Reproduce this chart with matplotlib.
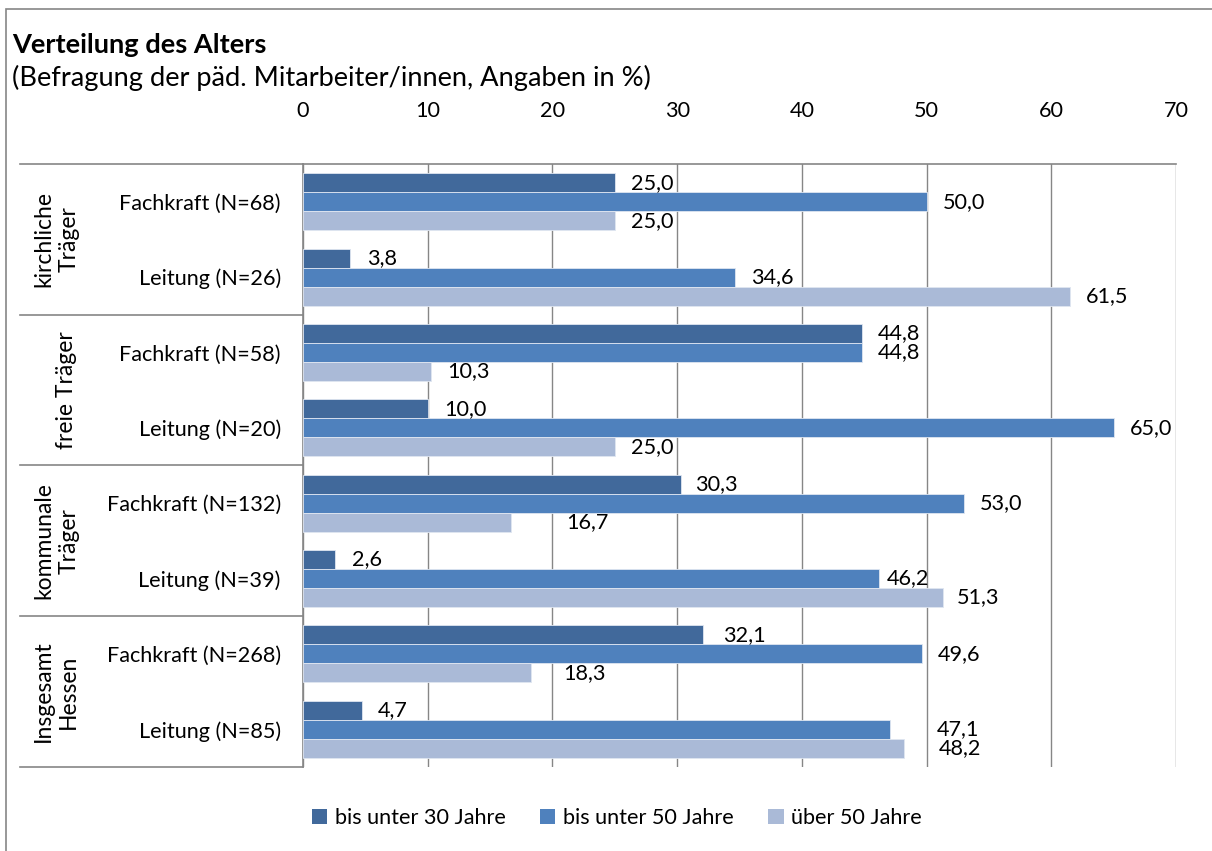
import numpy as np
import matplotlib
matplotlib.use('Agg')
import matplotlib.pyplot as plt
from matplotlib.patches import Patch, Rectangle
from matplotlib.transforms import blended_transform_factory

plt.rcParams['font.family'] = ['Lato', 'DejaVu Sans']

# data
groups = ['kirchliche\nTräger', 'freie Träger', 'kommunale\nTräger', 'Insgesamt\nHessen']
rows = ['Fachkraft (N=68)', 'Leitung (N=26)',
        'Fachkraft (N=58)', 'Leitung (N=20)',
        'Fachkraft (N=132)', 'Leitung (N=39)',
        'Fachkraft (N=268)', 'Leitung (N=85)']
series = ['bis unter 30 Jahre', 'bis unter 50 Jahre', 'über 50 Jahre']
u30 = [25.0, 3.8, 44.8, 10.0, 30.3, 2.6, 32.1, 4.7]
u50 = [50.0, 34.6, 44.8, 65.0, 53.0, 46.2, 49.6, 47.1]
o50 = [25.0, 61.5, 10.3, 25.0, 16.7, 51.3, 18.3, 48.2]
xticks = [0, 10, 20, 30, 40, 50, 60, 70]

colors = ['#41699b', '#4f81bd', '#aabad7']
grid_c = '#868686'
fs = 15.6

# label gap from bar end (data units), some labels were moved by hand
gap = 1.3
gap_fix = {(2, 4): 4.4, (2, 6): 2.6, (1, 5): 0.6, (1, 7): 3.7, (2, 7): 2.8,
           (0, 6): 1.6, (0, 4): 1.1, (2, 5): 1.1}

W, H = 1212, 851
fig = plt.figure(figsize=(W / 100, H / 100), dpi=100)
ax = fig.add_axes([303 / W, 1 - 767 / H, 873 / W, 603 / H])

y = np.arange(len(rows))
bh = 0.252
for i, vals in enumerate([u30, u50, o50]):
    pos = y + (i - 1) * bh
    ax.barh(pos, vals, height=bh, color=colors[i], edgecolor='#dfe6f1',
            linewidth=0.6, zorder=3)
    for j, v in enumerate(vals):
        ax.text(v + gap_fix.get((i, j), gap), pos[j], f'{v:.1f}'.replace('.', ','),
                va='center', ha='left', fontsize=fs, color='black', zorder=4)

ax.set_xlim(0, 70)
ax.set_ylim(len(rows) - 0.5, -0.5)
ax.set_xticks(xticks)
ax.xaxis.tick_top()
ax.tick_params(axis='x', length=0, pad=31, labelsize=fs)
ax.set_yticks(y)
ax.set_yticklabels(rows)
ax.tick_params(axis='y', length=0, pad=16, labelsize=fs)
ax.grid(axis='x', color=grid_c, linewidth=1, zorder=0)
for s in ['right', 'bottom']:
    ax.spines[s].set_visible(False)
for s in ['top', 'left']:
    ax.spines[s].set_color(grid_c)
    ax.spines[s].set_linewidth(1.2)

# category separators and group labels
tr = blended_transform_factory(ax.transAxes, ax.transData)
x0 = -(303 - 20) / 873
for b in [-0.5, 1.5, 3.5, 5.5, 7.5]:
    ax.plot([x0, 0], [b, b], color=grid_c, linewidth=1.2, transform=tr,
            clip_on=False)
for k, g in enumerate(groups):
    xc = 56 if '\n' in g else 66
    ax.text(-(303 - xc) / 873, 2 * k + 0.5, g, transform=tr, rotation=90,
            ha='center', va='center', multialignment='center',
            fontsize=16.5, linespacing=1.25)

# titles
fig.text(12 / W, 1 - 45 / H, 'Verteilung des Alters', fontsize=19.6,
         fontweight='bold', ha='left', va='center')
fig.text(12 / W, 1 - 78 / H, '(Befragung der päd. Mitarbeiter/innen, Angaben in %)',
         fontsize=19.6, ha='left', va='center')

# legend
handles = [Patch(facecolor=c, edgecolor='none') for c in colors]
fig.legend(handles, series, loc='center', bbox_to_anchor=(617 / W, 1 - 818 / H),
           ncol=3, frameon=False, fontsize=fs, handlelength=0.7,
           handleheight=0.7, handletextpad=0.35, columnspacing=1.6)

# chart border
fig.patches.append(Rectangle((6 / W, -0.1), 1.2, 1.1 - 9 / H,
                             transform=fig.transFigure, fill=False,
                             edgecolor=grid_c, linewidth=1.2))

fig.savefig('out.png', dpi=100)
